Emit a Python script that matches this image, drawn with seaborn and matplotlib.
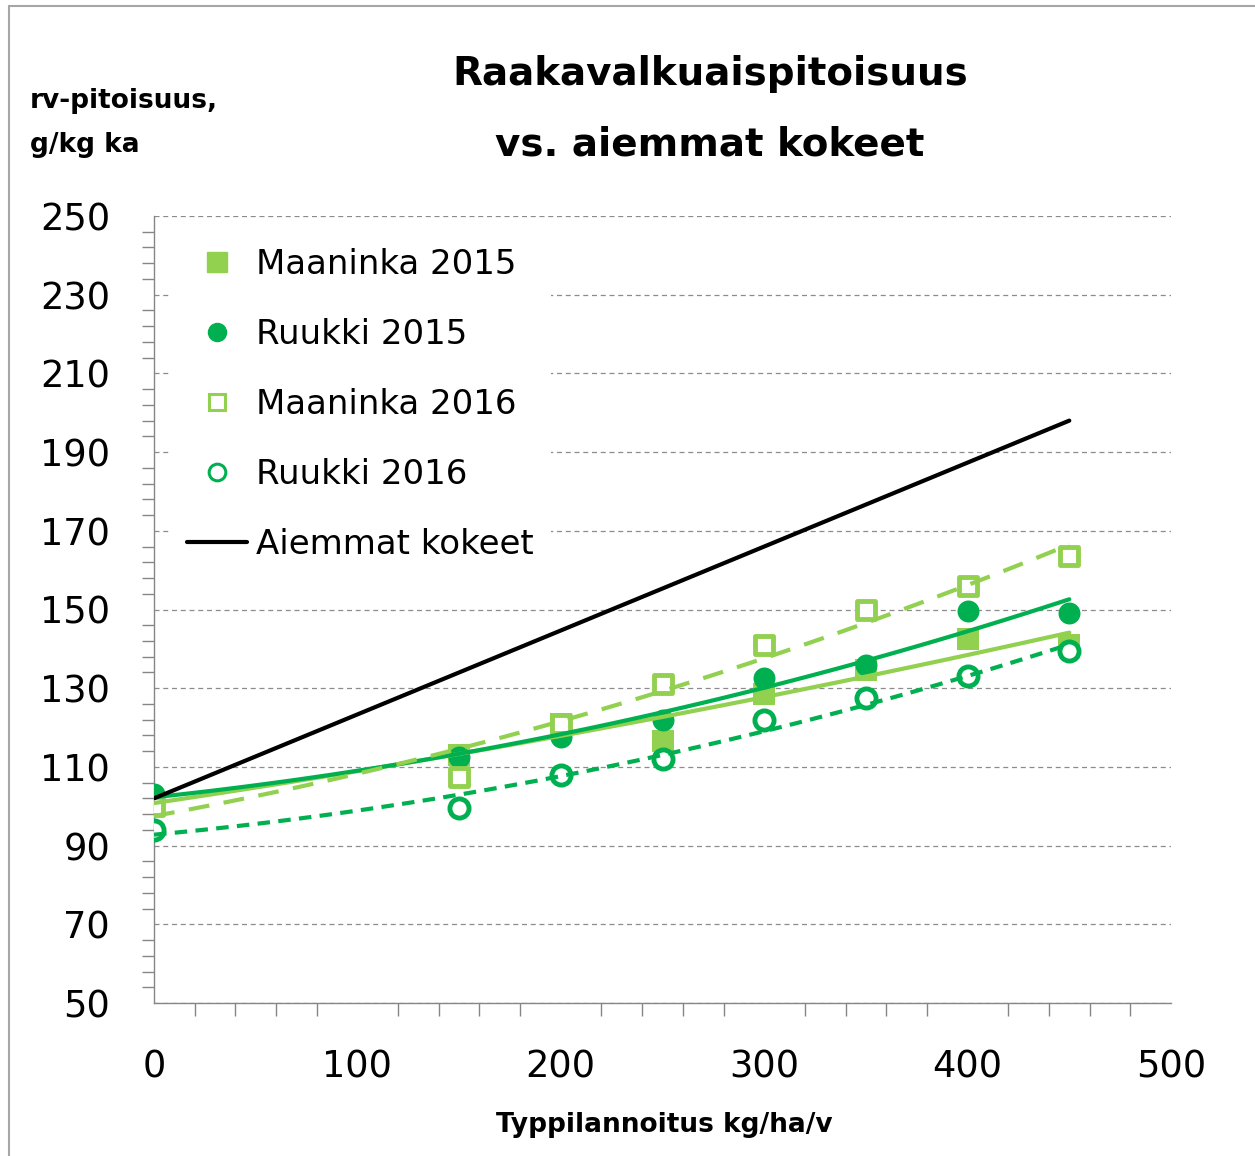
import pandas as pd
import seaborn as sns
import matplotlib.pyplot as plt
from matplotlib.lines import Line2D
from matplotlib.ticker import MultipleLocator

# Data
typpi = [0, 150, 200, 250, 300, 350, 400, 450]
maaninka_2015 = [101, 113, 121, 116.5, 128.5, 134.5, 142.5, 141]
ruukki_2015 = [103, 112.5, 117.5, 122, 132.5, 136, 149.5, 149]
maaninka_2016 = [100, 107.5, 121, 131, 141, 150, 156, 163.5]
ruukki_2016 = [94, 99.5, 108, 112, 122, 127.5, 133, 139.5]
aiemmat_x = [0, 450]
aiemmat_y = [102, 198]

labels = ["Maaninka 2015", "Ruukki 2015", "Maaninka 2016", "Ruukki 2016", "Aiemmat kokeet"]

df = pd.DataFrame({
    "N": typpi * 4,
    "rv": maaninka_2015 + ruukki_2015 + maaninka_2016 + ruukki_2016,
    "Sarja": sum([[lab] * len(typpi) for lab in labels[:4]], []),
})
prev = pd.DataFrame({"N": aiemmat_x, "rv": aiemmat_y})

light = "#92D050"
dark = "#00B050"
grey = "#868686"

sns.set_style("white")
plt.rcParams["font.family"] = ["DejaVu Sans"]
plt.rcParams["text.color"] = "black"

W, H = 1255, 1156
fig = plt.figure(figsize=(W / 100, H / 100), dpi=100)
ax = fig.add_axes([154 / W, 1 - 1003 / H, (1171 - 154) / W, (1003 - 216) / H])

# markers (style per series)
styles = {
    "Maaninka 2015": dict(marker="s", s=230, color=light, edgecolor=light, linewidth=0),
    "Ruukki 2015": dict(marker="o", s=250, color=dark, edgecolor=dark, linewidth=0),
    "Maaninka 2016": dict(marker="s", s=170, color="white", edgecolor=light, linewidth=3.5),
    "Ruukki 2016": dict(marker="o", s=190, color="white", edgecolor=dark, linewidth=3.5),
}
for lab, st in styles.items():
    sns.scatterplot(data=df[df["Sarja"] == lab], x="N", y="rv", ax=ax, zorder=3, legend=False, **st)

# polynomial trend lines
trends = {
    "Maaninka 2015": dict(color=light, ls="-"),
    "Ruukki 2015": dict(color=dark, ls="-"),
    "Maaninka 2016": dict(color=light, ls=(0, (5, 3.5))),
    "Ruukki 2016": dict(color=dark, ls=(0, (3, 2))),
}
for lab, tk in trends.items():
    sns.regplot(data=df[df["Sarja"] == lab], x="N", y="rv", ax=ax, order=2, ci=None,
                scatter=False, truncate=True,
                line_kws=dict(color=tk["color"], linestyle=tk["ls"], linewidth=3, zorder=4))

sns.lineplot(data=prev, x="N", y="rv", ax=ax, color="black", linewidth=3, zorder=4)

# axes
ax.set_xlim(0, 500)
ax.set_ylim(50, 250)
ax.xaxis.set_major_locator(MultipleLocator(100))
ax.xaxis.set_minor_locator(MultipleLocator(20))
ax.yaxis.set_major_locator(MultipleLocator(20, offset=10))
ax.yaxis.set_minor_locator(MultipleLocator(4, offset=2))
ax.set_xlabel("")
ax.set_ylabel("")

for side in ["top", "right"]:
    ax.spines[side].set_visible(False)
for side in ["left", "bottom"]:
    ax.spines[side].set_color(grey)
    ax.spines[side].set_linewidth(1)

ax.tick_params(axis="y", which="major", direction="inout", length=19, width=1, color=grey,
               labelsize=26.5, pad=22, labelcolor="black")
ax.tick_params(axis="y", which="minor", direction="out", length=8.5, width=1, color=grey, left=True)
ax.tick_params(axis="x", which="major", direction="out", length=12, width=1, color=grey,
               labelsize=26.5, pad=21, labelcolor="black")
ax.tick_params(axis="x", which="minor", direction="out", length=9, width=1, color=grey, bottom=True)

ax.yaxis.grid(True, which="major", linestyle=(0, (4, 3)), color="#8c8c8c", linewidth=0.9)
ax.xaxis.grid(False)
ax.set_axisbelow(True)

# legend
handles = [
    Line2D([], [], ls="none", marker="s", markersize=14, color=light),
    Line2D([], [], ls="none", marker="o", markersize=13, color=dark),
    Line2D([], [], ls="none", marker="s", markersize=12, markerfacecolor="white",
           markeredgecolor=light, markeredgewidth=2.2),
    Line2D([], [], ls="none", marker="o", markersize=12, markerfacecolor="white",
           markeredgecolor=dark, markeredgewidth=2.2),
    Line2D([], [], color="black", linewidth=3),
]
ax.legend(handles, labels, loc="upper left", bbox_to_anchor=(16 / 1017, (1003 - 231) / 787),
          frameon=True, facecolor="white", edgecolor="none", framealpha=1, fancybox=False,
          fontsize=24.5, handlelength=1.76, handletextpad=0.27, labelspacing=1.09,
          borderpad=0.5, borderaxespad=0, labelcolor="black")

# texts
fig.text(710 / W, 1 - 85 / H, "Raakavalkuaispitoisuus", ha="center", va="baseline",
         fontsize=28, fontweight="bold", color="black")
fig.text(710 / W, 1 - 155 / H, "vs. aiemmat kokeet", ha="center", va="baseline",
         fontsize=28, fontweight="bold", color="black")
fig.text(30 / W, 1 - 108 / H, "rv-pitoisuus,", ha="left", va="baseline",
         fontsize=19, fontweight="bold", color="black")
fig.text(30 / W, 1 - 152 / H, "g/kg ka", ha="left", va="baseline",
         fontsize=19, fontweight="bold", color="black")
fig.text(664 / W, 1 - 1132 / H, "Typpilannoitus kg/ha/v", ha="center", va="baseline",
         fontsize=19, fontweight="bold", color="black")

# outer frame
fig.add_artist(Line2D([9 / W, 9 / W], [0, 1 - 6 / H], transform=fig.transFigure,
                      color="#a6a6a6", linewidth=1.5))
fig.add_artist(Line2D([9 / W, 1], [1 - 6 / H, 1 - 6 / H], transform=fig.transFigure,
                      color="#a6a6a6", linewidth=1.5))

fig.savefig("out.png", dpi=100)
